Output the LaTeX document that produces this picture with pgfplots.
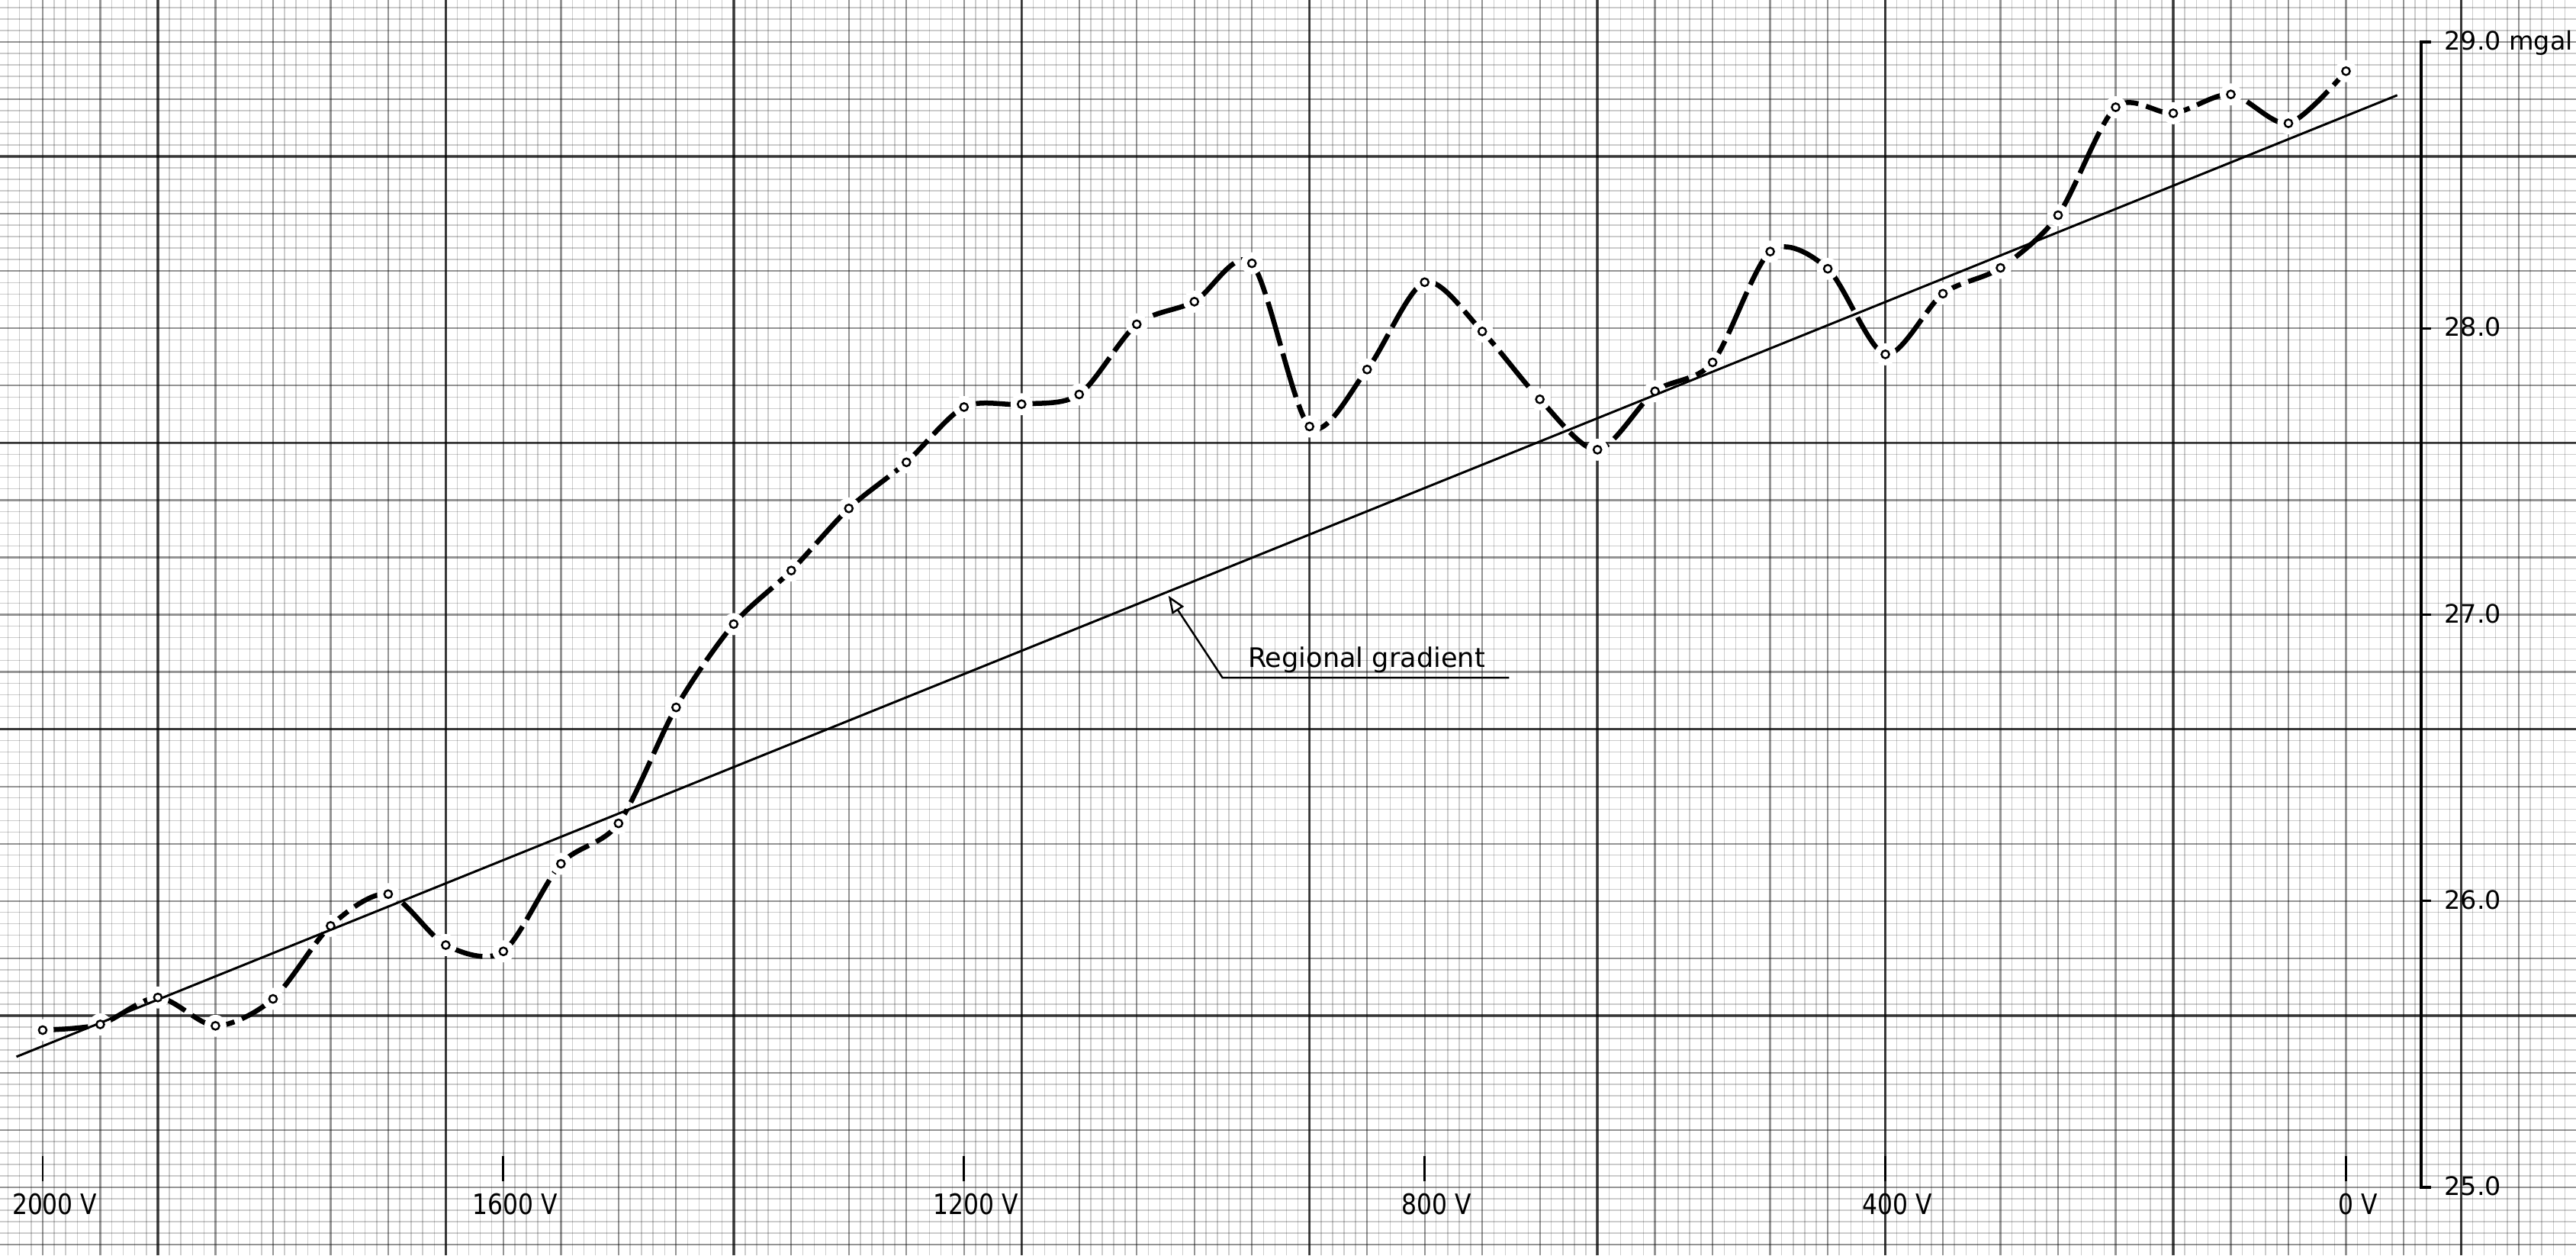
\documentclass[border=0pt]{standalone}
\usepackage{pgfplots}
\pgfplotsset{compat=1.18}
\usepackage{graphicx}
\usepackage{fontspec}
\setmainfont{DejaVu Sans}
\usetikzlibrary{arrows.meta}

\pgfplotstableread{
V mgal
2000 25.549
1950 25.569
1900 25.663
1850 25.564
1800 25.658
1750 25.913
1700 26.024
1650 25.846
1600 25.824
1550 26.130
1500 26.271
1450 26.676
1400 26.967
1350 27.154
1300 27.371
1250 27.532
1200 27.725
1150 27.735
1100 27.769
1050 28.014
1000 28.093
950 28.227
900 27.657
850 27.856
800 28.161
750 27.989
700 27.752
650 27.576
600 27.780
550 27.881
500 28.268
450 28.208
400 27.909
350 28.121
300 28.211
250 28.395
200 28.772
150 28.751
100 28.817
50 28.716
0 28.898
}\gravity

\pgfplotstableread{
V mgal
2022.8 25.456
-44.5 28.814
}\regional

\pgfplotsset{
  samebox/.style={
    at={(0,0)}, anchor=south west,
    width=33.77cm, height=16.45cm, scale only axis,
    xmin=-199.7, xmax=2037.1, x dir=reverse,
    ymin=24.7628, ymax=29.1466,
    clip=false,
  }
}

\begin{document}
\begin{tikzpicture}
\useasboundingbox (0,0) rectangle (33.77cm,16.45cm);
% paper grid over the ink of the curve
\begin{axis}[
  samebox,
  axis on top,
  axis line style={draw=none},
  tick style={draw=none},
  major tick length=0pt, minor tick length=0pt,
  xtick distance=50, ytick distance=0.2,
  minor x tick num=4, minor y tick num=4,
  xticklabels={}, yticklabels={},
  grid=both,
  major grid style={line width=0.65pt, draw=black!42, blend mode=multiply},
  minor grid style={line width=0.4pt, draw=black!20, blend mode=multiply},
  extra x ticks={1900,1650,1400,1150,900,650,400,150,-100},
  extra y ticks={28.6,27.6,26.6,25.6},
  extra x tick labels={}, extra y tick labels={},
  extra tick style={grid=major, major grid style={line width=1pt, draw=black!62, blend mode=multiply}},
]
% measured gravity curve
\addplot[line width=1.85pt, smooth, black, dash pattern=on 17pt off 3pt] table[x=V, y=mgal] {\gravity};
% gaps in the ink around the stations
\addplot[white, only marks, mark=*, mark size=3.9pt, mark options={draw=white, fill=white}] table[x=V, y=mgal] {\gravity};
\end{axis}
% ink drawn above the paper grid
\begin{axis}[samebox, hide axis]
% regional gradient
\addplot[line width=0.85pt, black] table[x=V, y=mgal] {\regional};
% station circles
\addplot[black, only marks, mark=*, mark size=1.45pt, mark options={draw=black, fill=white, line width=0.7pt}] table[x=V, y=mgal] {\gravity};

% vertical gravity scale (right)
\draw[line width=0.9pt] (axis cs:-73.8,29.0) -- (axis cs:-65.2,29.0) -- (axis cs:-65.2,25.0) -- (axis cs:-73.8,25.0);
\draw[line width=0.9pt] (axis cs:-65.2,26.0) -- (axis cs:-73.8,26.0);
\draw[line width=0.9pt] (axis cs:-65.2,27.0) -- (axis cs:-73.8,27.0);
\draw[line width=0.9pt] (axis cs:-65.2,28.0) -- (axis cs:-73.8,28.0);
\node[anchor=base west, inner sep=0pt, font=\fontsize{9.5}{11}\selectfont] at (axis cs:-85,28.972) {29.0 mgal};
\node[anchor=base west, inner sep=0pt, font=\fontsize{9.5}{11}\selectfont] at (axis cs:-85,27.972) {28.0};
\node[anchor=base west, inner sep=0pt, font=\fontsize{9.5}{11}\selectfont] at (axis cs:-85,26.972) {27.0};
\node[anchor=base west, inner sep=0pt, font=\fontsize{9.5}{11}\selectfont] at (axis cs:-85,25.972) {26.0};
\node[anchor=base west, inner sep=0pt, font=\fontsize{9.5}{11}\selectfont] at (axis cs:-85,24.972) {25.0};

% horizontal scale ticks and labels
\draw[line width=0.8pt] (axis cs:2000,25.02) -- (axis cs:2000,25.11);
\draw[line width=0.8pt] (axis cs:1600,25.02) -- (axis cs:1600,25.11);
\draw[line width=0.8pt] (axis cs:1200,25.02) -- (axis cs:1200,25.11);
\draw[line width=0.8pt] (axis cs:800,25.02) -- (axis cs:800,25.11);
\draw[line width=0.8pt] (axis cs:400,25.02) -- (axis cs:400,25.11);
\draw[line width=0.8pt] (axis cs:0,25.02) -- (axis cs:0,25.11);
\node[anchor=base, inner sep=0pt, font=\fontsize{10.5}{12}\selectfont] at (axis cs:2000,24.905) {\scalebox{0.85}[1]{2000\rlap{ V}}};
\node[anchor=base, inner sep=0pt, font=\fontsize{10.5}{12}\selectfont] at (axis cs:1600,24.905) {\scalebox{0.85}[1]{1600\rlap{ V}}};
\node[anchor=base, inner sep=0pt, font=\fontsize{10.5}{12}\selectfont] at (axis cs:1200,24.905) {\scalebox{0.85}[1]{1200\rlap{ V}}};
\node[anchor=base, inner sep=0pt, font=\fontsize{10.5}{12}\selectfont] at (axis cs:800,24.905) {\scalebox{0.85}[1]{800\rlap{ V}}};
\node[anchor=base, inner sep=0pt, font=\fontsize{10.5}{12}\selectfont] at (axis cs:400,24.905) {\scalebox{0.85}[1]{400\rlap{ V}}};
\node[anchor=base, inner sep=0pt, font=\fontsize{10.5}{12}\selectfont] at (axis cs:0,24.905) {\scalebox{0.85}[1]{0\rlap{ V}}};

% annotation
\draw[line width=0.7pt, -{Triangle[open, length=2.3mm, width=1.8mm, line width=0.7pt]}]
  (axis cs:726.7,26.780) -- (axis cs:975.6,26.780) -- (axis cs:1022.5,27.066);
\node[anchor=base, inner sep=0pt, font=\fontsize{10}{12}\selectfont] at (axis cs:850.5,26.815) {Regional gradient};
\end{axis}
\end{tikzpicture}
\end{document}
